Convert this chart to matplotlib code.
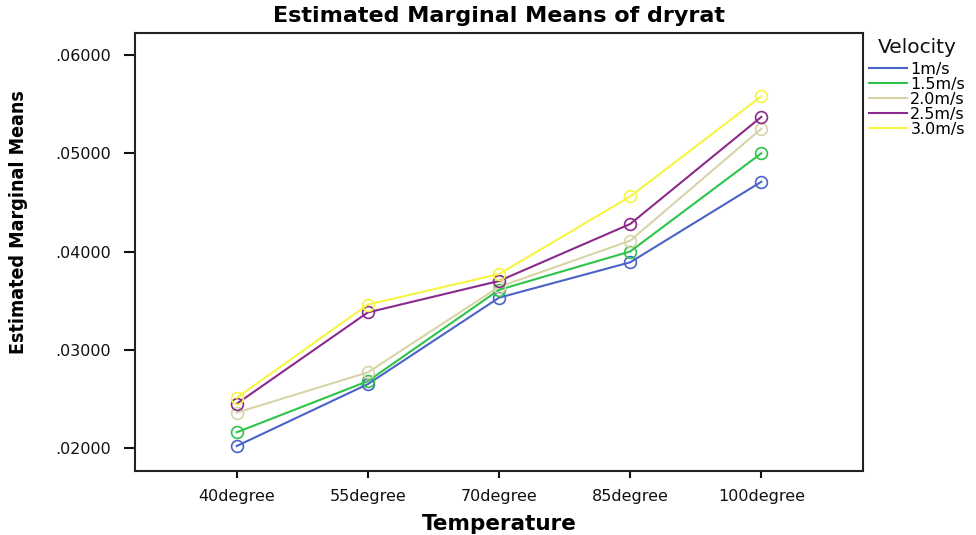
import matplotlib
matplotlib.use("Agg")
import matplotlib.pyplot as plt

categories = ["40degree", "55degree", "70degree", "85degree", "100degree"]
series_names = ["1m/s", "1.5m/s", "2.0m/s", "2.5m/s", "3.0m/s"]
v1 = [0.0202, 0.0265, 0.0353, 0.0389, 0.0471]
v15 = [0.0216, 0.0268, 0.0361, 0.0400, 0.0500]
v20 = [0.0236, 0.0277, 0.0364, 0.0411, 0.0525]
v25 = [0.0245, 0.0338, 0.0370, 0.0428, 0.0537]
v30 = [0.0251, 0.0346, 0.0377, 0.0456, 0.0558]
colors = ["#4a63c8", "#2ec44a", "#d8d4a8", "#8a2a8c", "#f5f542"]
yticks = [0.02, 0.03, 0.04, 0.05, 0.06]
ytick_labels = [".02000", ".03000", ".04000", ".05000", ".06000"]

plt.rcParams['font.family'] = ['DejaVu Sans']

fig = plt.figure(figsize=(9.76, 5.35), dpi=100)
ax = fig.add_axes([0.1383, 0.1196, 0.8842 - 0.1383, 0.9383 - 0.1196])

x = list(range(len(categories)))
for vals, name, c in zip([v1, v15, v20, v25, v30], series_names, colors):
    ax.plot(x, vals, color=c, lw=1.5, marker='o', ms=8.5, mfc='none', mec=c, mew=1.2, label=name)

ax.set_xlim(-0.775, 4.775)
ax.set_ylim(0.01766, 0.06224)
ax.set_xticks(x)
ax.set_xticklabels(categories)
ax.set_yticks(yticks)
ax.set_yticklabels(ytick_labels)
ax.tick_params(axis='both', direction='out', width=1.5, labelsize=11.5, colors='#111111')
ax.tick_params(axis='x', length=5, pad=8)
ax.tick_params(axis='y', length=8, pad=9)
for s in ax.spines.values():
    s.set_linewidth(1.5)
    s.set_color('#222222')

ax.set_title("Estimated Marginal Means of dryrat", fontsize=16, fontweight='bold', pad=8)
ax.set_xlabel("Temperature", fontsize=15.5, fontweight='bold', labelpad=7)
fig.text(0.019, 0.585, "Estimated Marginal Means", rotation=90, ha='center', va='center',
         fontsize=14, fontweight='bold', fontstretch='condensed', family=['DejaVu Sans'])

fig.text(0.8996, 0.912, "Velocity", ha='left', va='center', fontsize=14.5, color='#111111')
leg = ax.legend(loc='upper left', bbox_to_anchor=(1.008, 0.934), frameon=False,
                fontsize=11.5, handlelength=2.4, handletextpad=0.2,
                labelspacing=0.0, borderaxespad=0, borderpad=0)
for h in leg.get_lines():
    h.set_marker('')

fig.savefig("out.png", dpi=100)
